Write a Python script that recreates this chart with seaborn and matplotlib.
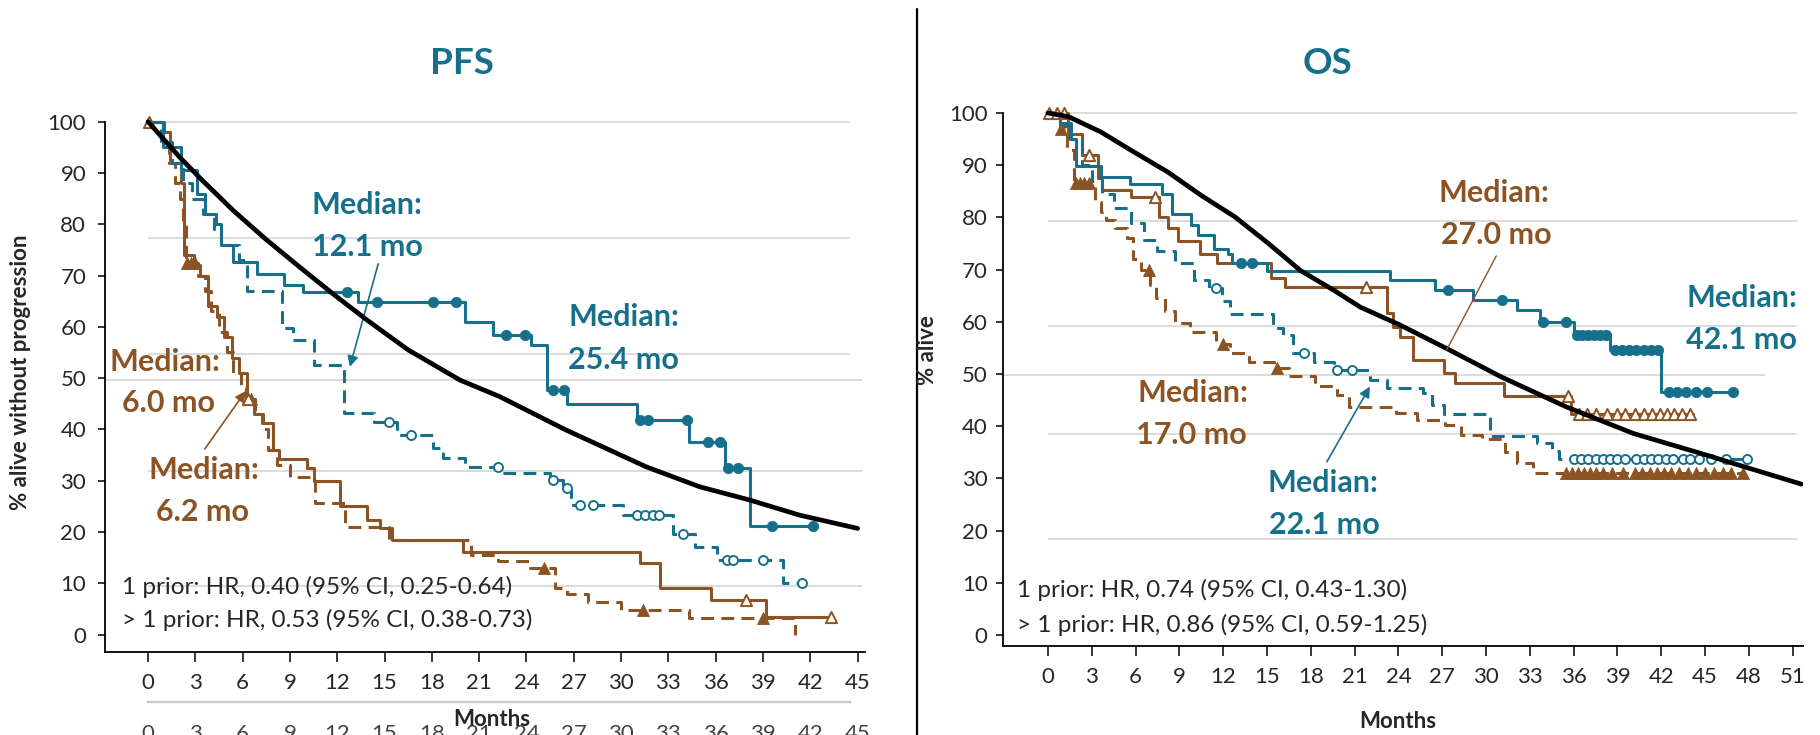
import numpy as np
import matplotlib
matplotlib.use("Agg")
import matplotlib.pyplot as plt
import seaborn as sns

# ------------------------------------------------------------------ data
# PFS panel (months, % alive without progression)
pfs_t1_trt_time = [0, 0.97, 2.1, 3.1, 3.6, 4.3, 4.6, 5.4, 6.9, 8.6, 9.8, 13.3, 20.1, 21.9,
                   24.3, 25.3, 26.6, 31.0, 34.3, 36.6, 38.2, 42.3]
pfs_t1_trt_surv = [100, 95, 90.5, 86, 82, 80, 76, 72.6, 70.4, 68.1, 66.8, 64.9, 60.9, 58.4,
                   56.4, 47.7, 45, 41.8, 37.5, 32.5, 21.1, 21.1]
pfs_t1_trt_cens = [12.6, 14.5, 18.1, 19.5, 22.7, 23.9, 25.7, 26.4, 31.2, 31.7, 34.2, 35.5,
                   36.3, 36.8, 37.4, 39.6, 42.2]

pfs_t1_ctl_time = [0, 0.8, 1.5, 2.2, 2.8, 3.5, 4.2, 4.6, 5.8, 6.3, 8.5, 9.2, 10.5, 12.4, 14.3,
                   15.8, 18.1, 18.7, 20.1, 22.4, 25.5, 26.3, 26.8, 30.1, 33.3, 34.7, 36.1,
                   40.3, 41.5]
pfs_t1_ctl_surv = [100, 96, 92, 88, 85, 82, 79, 76, 73, 67, 59.7, 57.5, 52.5, 43.2, 41.5,
                   38.9, 36.3, 34.4, 32.7, 31.5, 30.1, 28.6, 25.2, 23.3, 19.7, 17.1, 14.5,
                   10, 10]
pfs_t1_ctl_cens = [15.3, 16.7, 22.2, 25.7, 26.6, 27.4, 28.2, 31.0, 31.5, 32.0, 32.4, 33.9,
                   36.7, 37.1, 39.0, 41.5]

pfs_t2_trt_time = [0, 1.0, 1.4, 2.1, 2.3, 2.9, 3.3, 3.8, 4.4, 4.8, 5.3, 5.8, 6.3, 6.7, 7.3,
                   7.9, 8.3, 10.1, 10.5, 12.2, 13.9, 14.7, 15.5, 20.0, 31.2, 32.5, 35.7,
                   39.2, 43.3]
pfs_t2_trt_surv = [100, 98, 92, 88, 74, 72, 70, 64, 62, 58, 54, 51, 46, 43, 41.2, 36, 34.3,
                   32.4, 30, 25, 22.3, 20.7, 18.4, 16.1, 13.9, 9.1, 6.7, 3.5, 3.5]
pfs_t2_trt_cens = [0.05, 6.35, 37.9, 43.3]

pfs_t2_ctl_time = [0, 0.8, 1.3, 1.7, 2.0, 2.2, 2.4, 3.2, 3.6, 4.0, 4.5, 5.0, 5.4, 5.9, 6.2,
                   6.8, 7.2, 7.6, 8.2, 9.0, 10.6, 12.5, 15.3, 20.5, 22.2, 24.2, 25.8, 26.6,
                   27.9, 30.0, 34.3, 41.0]
pfs_t2_ctl_surv = [100, 96, 92, 88, 85, 80, 72.5, 70, 67, 63, 59, 55, 51, 48, 46, 43, 40,
                   36, 33, 30.8, 25.6, 21, 18.4, 15.5, 14.3, 13, 9.1, 8, 6.4, 4.8, 3.2, 0]
pfs_t2_ctl_cens = [2.45, 2.7, 2.95, 6.5, 25.1, 31.4, 39.0]

pfs_ref_time = [0, 2, 3.3, 5.4, 7.5, 9.6, 11.7, 13.9, 16.5, 19.8, 22.3, 26.5, 31.6, 35,
                38.2, 41.3, 45]
pfs_ref_surv = [100, 93.1, 89, 82.7, 77, 71.7, 66.5, 61.3, 55.5, 49.6, 46.4, 39.9, 32.7,
                28.8, 26.2, 23.3, 20.7]

# OS panel (months, % alive)
os_t1_trt_time = [0, 0.8, 1.6, 1.9, 3.6, 5.6, 7.8, 8.5, 9.8, 10.3, 11.4, 12.3, 12.6, 15.0,
                  23.4, 26.5, 29.1, 32.1, 33.7, 36.0, 38.5, 42.0, 46.9]
os_t1_trt_surv = [100, 98, 95, 89.9, 87.7, 86.4, 84.5, 80.7, 78.5, 76.6, 74, 73, 71.3, 69.8,
                  68, 66, 64.2, 62.3, 60, 57.4, 54.6, 46.6, 46.6]
os_t1_trt_cens = [13.2, 14.0, 27.4, 31.1, 33.9, 35.5, 36.2, 36.6, 37.0, 37.4, 37.8, 38.2,
                  38.8, 39.3, 39.8, 40.3, 40.8, 41.3, 41.8, 42.5, 43.1, 43.7, 44.4, 45.1, 46.9]

os_t1_ctl_time = [0, 0.8, 1.5, 2.3, 3.0, 3.7, 4.5, 5.7, 6.6, 7.5, 8.7, 10.0, 11.0, 11.9,
                  12.5, 15.4, 16.1, 16.8, 18.2, 19.6, 22.05, 23.2, 25.7, 26.3, 27.1, 30.3,
                  33.5, 34.5, 35.0, 47.9]
os_t1_ctl_surv = [100, 97.5, 95, 90, 87, 84.5, 81.8, 79, 75.6, 73.5, 71.2, 68, 66.4, 64,
                  61.5, 58.9, 57.5, 54, 52.3, 50.8, 48.9, 47.3, 46.3, 44, 42.3, 38.1, 36.7,
                  35.2, 33.8, 33.8]
os_t1_ctl_cens = [11.5, 17.5, 19.8, 20.8, 36.0, 36.5, 37.0, 37.5, 38.0, 38.5, 39.0, 39.5,
                  40.3, 40.8, 41.3, 41.8, 42.3, 42.8, 43.5, 44.0, 44.6, 45.4, 46.4, 47.9]

os_t2_trt_time = [0, 1.4, 2.3, 3.4, 3.7, 5.7, 7.6, 8.2, 8.9, 10.4, 11.6, 15.3, 16.2, 23.2,
                  23.6, 24.1, 25.0, 27.1, 27.9, 31.2, 35.8, 44.2]
os_t2_trt_surv = [100, 96, 92, 87.6, 85.3, 84, 80, 78, 75.5, 73, 71.3, 68.4, 66.6, 61.6,
                  59, 57.1, 52.7, 50.1, 48.2, 45.7, 42.3, 42.3]
os_t2_trt_cens = [0.1, 0.6, 1.1, 2.8, 7.3, 21.8, 35.6, 36.4, 36.9, 37.5, 38.3, 39.0, 39.5,
                  40.2, 40.8, 41.4, 41.9, 42.4, 42.9, 43.4, 44.0]

os_t2_ctl_time = [0, 0.8, 1.3, 1.8, 3.2, 3.6, 4.0, 4.6, 5.4, 5.8, 6.4, 7.0, 7.4, 8.0, 8.7,
                  9.7, 11.5, 12.5, 13.8, 15.5, 16.5, 18.3, 19.8, 20.6, 23.8, 25.3, 27.2,
                  28.3, 29.7, 31.3, 32.1, 33.2, 35.0, 47.6]
os_t2_ctl_surv = [100, 97, 93, 86.5, 83, 81, 79.5, 78, 76, 72, 70, 67, 64.5, 62, 59.7, 58,
                  55.8, 54, 52.3, 51.1, 49.6, 47.7, 46, 43.7, 42.5, 41.2, 40.3, 38.3, 37.5,
                  35, 33, 31.1, 31, 31]
os_t2_ctl_cens = [0.9, 1.9, 2.2, 2.5, 2.8, 6.9, 12.0, 15.7, 35.5, 35.9, 36.3, 36.7, 37.1,
                  37.5, 38.0, 38.6, 39.4, 40.2, 40.7, 41.2, 41.7, 42.2, 42.7, 43.2, 43.8,
                  44.4, 45.0, 45.6, 46.2, 46.8, 47.6]

os_ref_time = [0, 1.4, 3.6, 5.9, 8.2, 10.5, 12.8, 15.1, 17.3, 19.6, 21.4, 24.1, 27.5, 31,
               35.5, 40.1, 44.7, 46.9, 51.6]
os_ref_surv = [100, 99.3, 96.4, 92.5, 88.7, 84.2, 80.1, 75, 69.8, 66, 62.8, 59.4, 54.6,
               49.5, 43.7, 38.6, 34.8, 32.9, 28.9]

pfs_xticks = list(range(0, 46, 3))
os_xticks = list(range(0, 52, 3))
yticks = list(range(0, 101, 10))

pfs_hr_text = ["1 prior: HR, 0.40 (95% CI, 0.25-0.64)",
               "> 1 prior: HR, 0.53 (95% CI, 0.38-0.73)"]
os_hr_text = ["1 prior: HR, 0.74 (95% CI, 0.43-1.30)",
              "> 1 prior: HR, 0.86 (95% CI, 0.59-1.25)"]

# ------------------------------------------------------------------ style
sns.set_theme(style="white")
plt.rcParams["font.family"] = ["Lato", "DejaVu Sans"]

TEAL = "#17708B"
BROWN = "#8C5424"
GRID = "#d9d9d9"
TXT = "#262626"
DASH = (0, (4.2, 2.4))
LW = 2.2

fig = plt.figure(figsize=(18.2, 7.35), dpi=100)
axL = fig.add_axes([0.05769, 0.11293, 0.41758, 0.74939])
axR = fig.add_axes([0.55110, 0.12041, 0.43934, 0.75429])


def step_val(t, s, x):
    idx = np.searchsorted(np.asarray(t), np.asarray(x), side="right") - 1
    return np.asarray(s)[np.clip(idx, 0, len(s) - 1)]


def km(ax, t, s, color, ls="-", lw=LW):
    sns.lineplot(x=t, y=s, ax=ax, color=color, lw=lw, linestyle=ls,
                 drawstyle="steps-post", estimator=None, sort=False, zorder=3)


def cens(ax, t, s, c, color, marker, filled, size):
    y = step_val(t, s, c)
    if filled:
        sns.scatterplot(x=c, y=y, ax=ax, marker=marker, s=size, color=color,
                        edgecolor=color, linewidth=0.6, zorder=4)
    else:
        sns.scatterplot(x=c, y=y, ax=ax, marker=marker, s=size, color=color,
                        facecolor="white", edgecolor=color, linewidth=1.4, zorder=4)


def ref(ax, t, s):
    sns.lineplot(x=t, y=s, ax=ax, color="black", lw=3.4, estimator=None,
                 sort=False, zorder=5)


# ------------------------------------------------------------------ PFS panel
ax = axL
for lvl, x0, x1 in [(100, 0, 44.5), (77.3, 0, 44.5), (54.7, 0, 44.5),
                    (49.6, -2.73, 45.25), (31.8, 0, 45.25), (9.4, 0, 45.25)]:
    ax.hlines(lvl, x0, x1, color=GRID, lw=1.3, zorder=0)

km(ax, pfs_t2_ctl_time, pfs_t2_ctl_surv, BROWN, DASH)
km(ax, pfs_t2_trt_time, pfs_t2_trt_surv, BROWN)
km(ax, pfs_t1_ctl_time, pfs_t1_ctl_surv, TEAL, DASH)
km(ax, pfs_t1_trt_time, pfs_t1_trt_surv, TEAL)
cens(ax, pfs_t2_ctl_time, pfs_t2_ctl_surv, pfs_t2_ctl_cens, BROWN, "^", True, 75)
cens(ax, pfs_t2_trt_time, pfs_t2_trt_surv, pfs_t2_trt_cens, BROWN, "^", False, 65)
cens(ax, pfs_t1_ctl_time, pfs_t1_ctl_surv, pfs_t1_ctl_cens, TEAL, "o", False, 42)
cens(ax, pfs_t1_trt_time, pfs_t1_trt_surv, pfs_t1_trt_cens, TEAL, "o", True, 55)
ref(ax, pfs_ref_time, pfs_ref_surv)

ax.set_xlim(-2.73, 45.47)
ax.set_ylim(-3.4, 104)

MED = 22
HR = 17.5
medkw = dict(fontsize=MED, fontweight="bold", ha="center", va="center", zorder=6)
ax.text(13.9, 83.7, "Median:", color=TEAL, **medkw)
ax.text(13.9, 75.6, "12.1 mo", color=TEAL, **medkw)
ax.annotate("", xy=(12.8, 52.2), xytext=(14.6, 72.3),
            arrowprops=dict(arrowstyle="-|>", color=TEAL, lw=1.2,
                            mutation_scale=16, shrinkA=0, shrinkB=0))
ax.text(26.65, 61.9, "Median:", color=TEAL, **{**medkw, "ha": "left"})
ax.text(26.65, 53.5, "25.4 mo", color=TEAL, **{**medkw, "ha": "left"})
ax.text(1.1, 53.2, "Median:", color=BROWN, clip_on=False, **medkw)
ax.text(1.3, 45.2, "6.0 mo", color=BROWN, clip_on=False, **medkw)
ax.text(3.55, 32.1, "Median:", color=BROWN, **medkw)
ax.text(3.45, 23.9, "6.2 mo", color=BROWN, **medkw)
ax.annotate("", xy=(6.2, 47.5), xytext=(3.6, 36.2),
            arrowprops=dict(arrowstyle="-|>", color=BROWN, lw=1.2,
                            mutation_scale=16, shrinkA=0, shrinkB=0))
ax.text(-1.65, 9.3, pfs_hr_text[0], fontsize=HR, color=TXT, ha="left", va="center", zorder=6)
ax.text(-1.65, 2.8, pfs_hr_text[1], fontsize=HR, color=TXT, ha="left", va="center", zorder=6)

# duplicated, cropped tick row below the axis (as in the source image)
sec = ax.secondary_xaxis(-0.0908)
sec.set_xticks(pfs_xticks)
sec.tick_params(length=0, pad=16, labelsize=16, labelcolor="#444444")
sec.spines["bottom"].set_color("#c8c8c8")
sec.spines["bottom"].set_linewidth(1.6)
sec.spines["bottom"].set_bounds(0, 44.5)

# ------------------------------------------------------------------ OS panel
ax = axR
for lvl, x0, x1 in [(100, 0, 51.3), (79.3, 0, 51.3), (59.1, 0, 51.3),
                    (49.8, -3.08, 49.1), (38.5, 0, 51.3), (18.4, 0, 51.3)]:
    ax.hlines(lvl, x0, x1, color=GRID, lw=1.3, zorder=0)

km(ax, os_t2_ctl_time, os_t2_ctl_surv, BROWN, DASH)
km(ax, os_t2_trt_time, os_t2_trt_surv, BROWN)
km(ax, os_t1_ctl_time, os_t1_ctl_surv, TEAL, DASH)
km(ax, os_t1_trt_time, os_t1_trt_surv, TEAL)
cens(ax, os_t2_ctl_time, os_t2_ctl_surv, os_t2_ctl_cens, BROWN, "^", True, 75)
cens(ax, os_t2_trt_time, os_t2_trt_surv, os_t2_trt_cens, BROWN, "^", False, 65)
cens(ax, os_t1_ctl_time, os_t1_ctl_surv, os_t1_ctl_cens, TEAL, "o", False, 42)
cens(ax, os_t1_trt_time, os_t1_trt_surv, os_t1_trt_cens, TEAL, "o", True, 55)
ref(ax, os_ref_time, os_ref_surv)

ax.set_xlim(-3.08, 51.68)
ax.set_ylim(-2.2, 104)

ax.text(30.55, 84.6, "Median:", color=BROWN, **medkw)
ax.text(30.7, 76.6, "27.0 mo", color=BROWN, **medkw)
ax.plot([30.7, 27.3], [72.6, 54.6], color=BROWN, lw=1.0, zorder=6)
ax.text(47.55, 64.5, "Median:", color=TEAL, **medkw)
ax.text(47.5, 56.5, "42.1 mo", color=TEAL, **medkw)
ax.text(9.9, 46.3, "Median:", color=BROWN, **medkw)
ax.text(9.85, 38.3, "17.0 mo", color=BROWN, **medkw)
ax.text(18.86, 29.1, "Median:", color=TEAL, **medkw)
ax.text(18.9, 21.1, "22.1 mo", color=TEAL, **medkw)
ax.annotate("", xy=(22.05, 47.6), xytext=(19.1, 33.2),
            arrowprops=dict(arrowstyle="-|>", color=TEAL, lw=1.2,
                            mutation_scale=16, shrinkA=0, shrinkB=0))
ax.text(-2.1, 8.6, os_hr_text[0], fontsize=HR, color=TXT, ha="left", va="center", zorder=6)
ax.text(-2.1, 2.0, os_hr_text[1], fontsize=HR, color=TXT, ha="left", va="center", zorder=6)

# ------------------------------------------------------------------ axes styling
for ax, xt, ymin, ypad in [(axL, pfs_xticks, -3.4, 8.5), (axR, os_xticks, -2.2, 6)]:
    ax.set_xticks(xt)
    ax.set_yticks(yticks)
    ax.set_xlabel("")
    ax.set_ylabel("")
    ax.grid(False)
    for sp in ["top", "right"]:
        ax.spines[sp].set_visible(False)
    for sp in ["left", "bottom"]:
        ax.spines[sp].set_color("black")
        ax.spines[sp].set_linewidth(1.3)
    ax.spines["left"].set_bounds(ymin, 100)
    ax.tick_params(axis="x", direction="out", length=7, width=1.1, color="black",
                   pad=8, labelsize=16, labelcolor=TXT, bottom=True)
    ax.tick_params(axis="y", direction="out", length=5, width=1.1, color="black",
                   pad=ypad, labelsize=16, labelcolor=TXT, left=True)

# titles, axis labels, divider
fig.text(462 / 1820, 1 - 63.5 / 735, "PFS", color=TEAL, fontsize=26.5,
         fontweight="bold", ha="center", va="center")
fig.text(1328 / 1820, 1 - 63.5 / 735, "OS", color=TEAL, fontsize=26.5,
         fontweight="bold", ha="center", va="center")
fig.text(21 / 1820, 1 - 372 / 735, "% alive without progression", rotation=90,
         fontsize=16, fontweight="bold", color=TXT, ha="center", va="center")
fig.text(928 / 1820, 1 - 350 / 735, "% alive", rotation=90,
         fontsize=16, fontweight="bold", color=TXT, ha="center", va="center")
fig.text(492 / 1820, 1 - 719 / 735, "Months", fontsize=16, fontweight="bold",
         color=TXT, ha="center", va="center")
fig.text(1398 / 1820, 1 - 722 / 735, "Months", fontsize=16, fontweight="bold",
         color=TXT, ha="center", va="center")
fig.add_artist(plt.Line2D([917 / 1820, 917 / 1820], [0, 1 - 9 / 735],
                          transform=fig.transFigure, color="black", lw=1.6))

fig.savefig("out.png", dpi=100)
